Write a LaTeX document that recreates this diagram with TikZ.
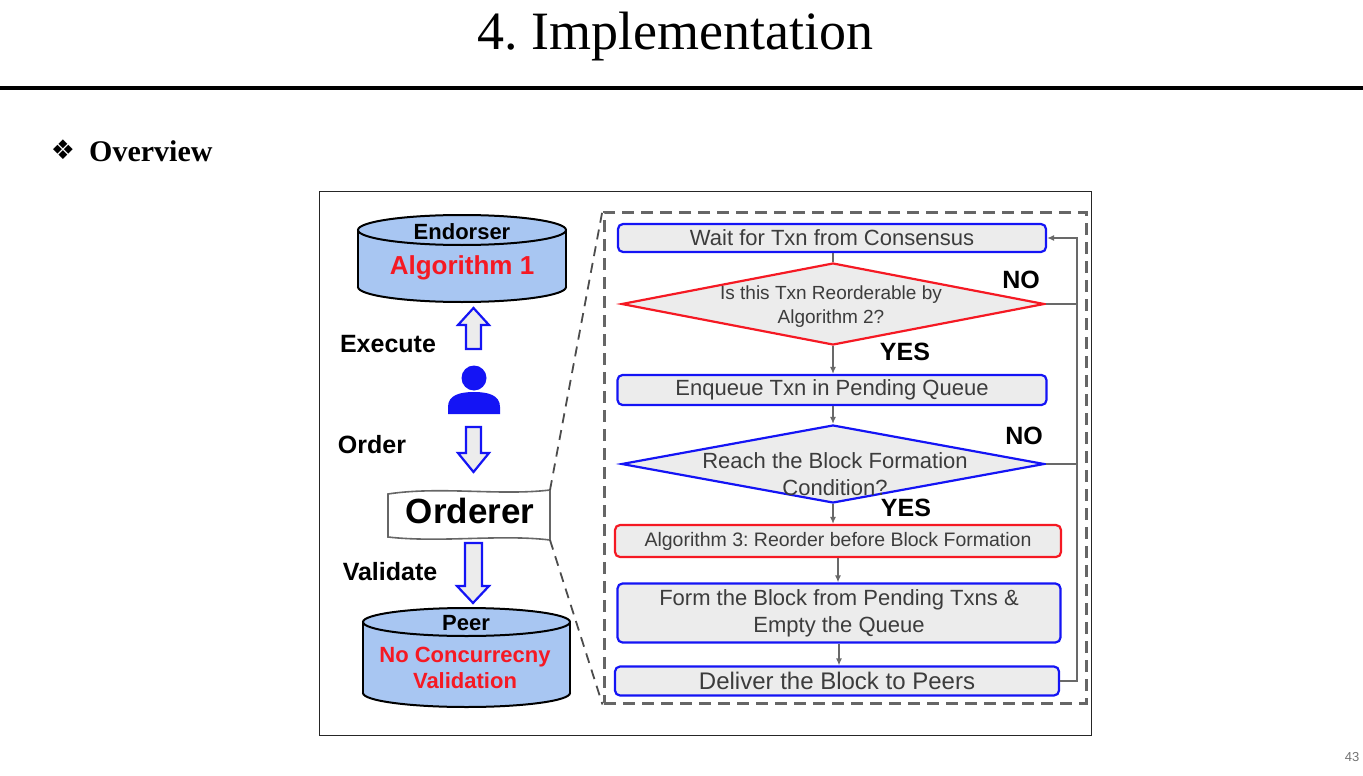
\documentclass[tikz,border=0pt]{standalone}
\usepackage{fontspec}
\setmainfont{Liberation Serif}
\newfontfamily\arialfont{Liberation Sans}
\newfontfamily\symfont{DejaVu Sans}
\usepackage{tikz}
\usetikzlibrary{shapes.geometric, arrows.meta}
\frenchspacing

\definecolor{cylblue}{RGB}{168,198,242}
\definecolor{boxgray}{RGB}{236,236,236}
\definecolor{txtgray}{RGB}{60,60,60}
\definecolor{linegray}{RGB}{105,105,105}
\definecolor{myblue}{RGB}{20,20,245}
\definecolor{myred}{RGB}{245,25,35}

\tikzset{
  box/.style={rectangle, rounded corners=5pt, draw=myblue, line width=2.2pt, fill=boxgray,
    text=txtgray, align=center, inner sep=0pt, font=\arialfont\fontsize{22}{27}\selectfont},
  dia/.style={diamond, draw=myblue, line width=2.2pt, fill=boxgray, inner sep=0pt,
    minimum width=423pt},
  diatext/.style={text=txtgray, align=center, inner sep=0pt},
  flow/.style={draw=linegray, line width=1.3pt, -{Latex[length=7pt,width=6pt]}},
  plain/.style={draw=linegray, line width=1.3pt},
  blockarrow/.style={draw=myblue, line width=2.2pt, fill=boxgray, line join=miter},
  lbl/.style={font=\arialfont\bfseries\fontsize{25}{30}\selectfont, inner sep=0pt},
  cyltext/.style={font=\arialfont\bfseries\fontsize{22}{26}\selectfont, align=center, inner sep=0pt},
  zoomline/.style={draw=black!70, line width=1.8pt, dash pattern=on 10pt off 7pt}
}

\begin{document}
\begin{tikzpicture}[x=1pt, y=-1pt]
\useasboundingbox (0,0) rectangle (1363,776);

% slide head
\node (title) at (675,37) {\fontsize{54}{60}\selectfont 4. Implementation};
\draw[line width=3pt] (0,88) -- (1363,88);
\node (bullet) at (63,150) {\symfont\fontsize{27}{30}\selectfont ❖};
\node[anchor=west, inner sep=0pt] (overview) at (89,151) {\fontsize{30}{34}\selectfont\bfseries Overview};
\node[text=black!55] (pagenum) at (1352,757) {\arialfont\fontsize{13}{15}\selectfont 43};

% frame of the figure
\draw[line width=1pt, draw=black!85] (319,191) rectangle (1091,735);

% Endorser
\filldraw[fill=cylblue, line width=2pt] (462,287) ellipse [x radius=104, y radius=15];
\fill[cylblue] (358,230) rectangle (566,287);
\draw[line width=2pt] (358,230) -- (358,287) (566,230) -- (566,287);
\filldraw[fill=cylblue, line width=2pt] (462,230) ellipse [x radius=104, y radius=15];
\node[cyltext] (endorser) at (462,232) {Endorser};
\node[cyltext, text=myred, font=\arialfont\bfseries\fontsize{26}{30}\selectfont] (alg1) at (462,268) {Algorithm 1};

% client
\filldraw[blockarrow] (466,349) -- (466,325) -- (458,325) -- (473.5,308) -- (489,325) -- (481,325) -- (481,349) -- cycle;
\node[lbl] (execute) at (388,344) {Execute};
\fill[myblue] (474,378) circle (12.5);
\fill[myblue] (448,414) -- (448,407) .. controls (448,395) and (460,392) .. (474,392)
  .. controls (488,392) and (500,395) .. (500,407) -- (500,414) -- cycle;
\filldraw[blockarrow] (466,427) -- (466,453) -- (458,453) -- (473.5,472) -- (489,453) -- (481,453) -- (481,427) -- cycle;
\node[lbl] (order) at (372,445) {Order};

% Orderer
\filldraw[fill=white, draw=black!60, line width=1.6pt] (388,494) .. controls (440,486) and (500,496) .. (550,490)
  -- (550,540) .. controls (500,534) and (440,543) .. (388,537) -- cycle;
\node[font=\arialfont\bfseries\fontsize{35}{40}\selectfont, inner sep=0pt] (orderer) at (470,511) {Orderer};
\coordinate (ordNE) at (550,490);
\coordinate (ordSE) at (550,540);

% Peer
\filldraw[blockarrow] (465,543) -- (465,586) -- (457,586) -- (473,603) -- (489,586) -- (482,586) -- (482,543) -- cycle;
\node[lbl] (validate) at (390,572) {Validate};
\filldraw[fill=cylblue, line width=2pt] (466.5,693) ellipse [x radius=103.5, y radius=14];
\fill[cylblue] (363,622) rectangle (570,693);
\draw[line width=2pt] (363,622) -- (363,693) (570,622) -- (570,693);
\filldraw[fill=cylblue, line width=2pt] (466.5,622) ellipse [x radius=103.5, y radius=14];
\node[cyltext] (peer) at (466,623) {Peer};
\node[cyltext, text=myred] (nocc) at (465,668) {No Concurrecny\\Validation};

% ordering service, zoomed
\node[draw=black!60, line width=3pt, dash pattern=on 12pt off 7pt, minimum width=482pt,
  minimum height=491pt, inner sep=0pt] (zoombox) at (845,457.5) {};
\draw[zoomline] (ordNE) -- (zoombox.north west);
\draw[zoomline] (ordSE) -- (zoombox.south west);

\node[box, minimum width=428pt, minimum height=28pt] (wait) at (832,238) {Wait for Txn from Consensus};
\node[dia, draw=myred, minimum height=82pt] (reord) at (833,304) {};
\node[diatext, font=\arialfont\fontsize{19}{24}\selectfont] (reordtxt) at (831,307) {Is this Txn Reorderable by\\Algorithm 2?};
\node[box, minimum width=429pt, minimum height=30pt] (enq) at (832,390) {Enqueue Txn in Pending Queue};
\node[dia, minimum height=78pt] (cond) at (833,464) {};
\node[diatext, font=\arialfont\fontsize{22}{27}\selectfont] (condtxt) at (835,474) {Reach the Block Formation\\Condition?};
\node[box, draw=myred, minimum width=446pt, minimum height=32pt, font=\arialfont\fontsize{19.5}{23}\selectfont] (alg3) at (838,541) {Algorithm 3: Reorder before Block Formation};
\node[box, minimum width=443pt, minimum height=59pt] (form) at (839,613) {Form the Block from Pending Txns \&\\Empty the Queue};
\node[box, minimum width=444pt, minimum height=29pt, font=\arialfont\fontsize{24}{28}\selectfont] (deliver) at (837,681) {Deliver the Block to Peers};

\node[lbl] (no1) at (1021,280) {NO};
\node[lbl] (yes1) at (905,352) {YES};
\node[lbl] (no2) at (1024,436) {NO};
\node[lbl] (yes2) at (906,508) {YES};

\draw[plain] (wait.south -| reord.north) -- (reord.north);
\draw[flow] (reord.south) -- (reord.south |- enq.north);
\draw[flow] (enq.south -| cond.north) -- (cond.north);
\draw[flow] (cond.south) -- (cond.south |- alg3.north);
\draw[flow] (alg3.south) -- (alg3.south |- form.north);
\draw[flow] (form.south) -- (form.south |- deliver.north);

\coordinate (loop) at (1077,681);
\draw[flow] (deliver.east) -- (loop) |- (wait.east);
\draw[plain] (reord.east) -- (reord.east -| loop);
\draw[plain] (cond.east) -- (cond.east -| loop);
\end{tikzpicture}
\end{document}
